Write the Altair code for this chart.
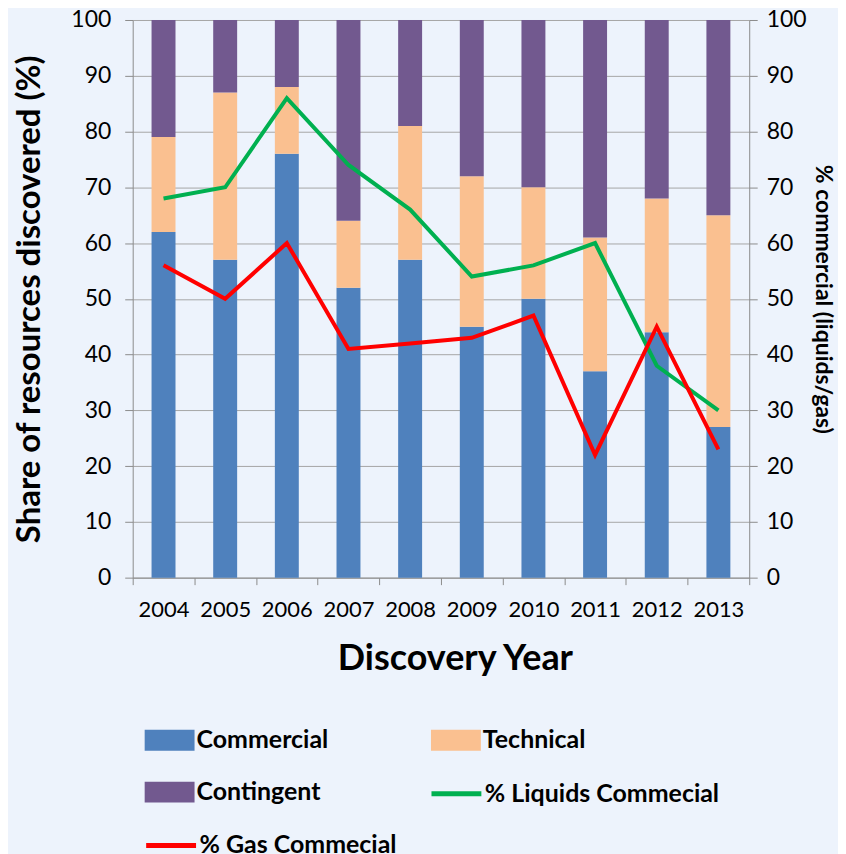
import altair as alt
import pandas as pd

years = ["2004", "2005", "2006", "2007", "2008", "2009", "2010", "2011", "2012", "2013"]
commercial = [62, 57, 76, 52, 57, 45, 50, 37, 44, 27]
technical = [17, 30, 12, 12, 24, 27, 20, 24, 24, 38]
contingent = [21, 13, 12, 36, 19, 28, 30, 39, 32, 35]
liquids_commercial = [68, 70, 86, 74, 66, 54, 56, 60, 38, 30]
gas_commercial = [56, 50, 60, 41, 42, 43, 47, 22, 45, 23]

bar_series = ["Commercial", "Technical", "Contingent"]
bar_colors = ["#4F81BD", "#FAC090", "#72598F"]
# legend fills column-major: list in the order that reads row by row in two columns
legend_order = ["Commercial", "Contingent", "Technical"]
liquids_name = "% Liquids Commecial"
gas_name = "% Gas Commecial"
liquids_color = "#00B050"
gas_color = "#FF0000"

bar_rows = []
for k, (name, vals) in enumerate(zip(bar_series, [commercial, technical, contingent])):
    for y, v in zip(years, vals):
        bar_rows.append({"year": y, "series": name, "value": v, "order": k})
bars_df = pd.DataFrame(bar_rows)

liquids_df = pd.DataFrame({"year": years, "series": liquids_name, "value": liquids_commercial})
gas_df = pd.DataFrame({"year": years, "series": gas_name, "value": gas_commercial})

FONT = "Lato"
RECT = "M-1,-0.42H1V0.42H-1Z"


def legend(x, y, columns=1, symbol=RECT, **kw):
    return alt.Legend(
        title=None,
        orient="none",
        legendX=x,
        legendY=y,
        columns=columns,
        symbolType=symbol,
        symbolSize=2500,
        symbolOffset=0,
        labelOffset=1,
        labelFont=FONT,
        labelFontSize=25,
        labelFontWeight="bold",
        labelColor="#000000",
        labelLimit=400,
        rowPadding=13,
        **kw,
    )


x = alt.X(
    "year:N",
    sort=years,
    scale=alt.Scale(paddingInner=0, paddingOuter=0),
    axis=alt.Axis(
        title="Discovery Year",
        labelAngle=0,
        tickBand="extent",
        tickSize=7,
        labelPadding=15,
        labelFontSize=22,
        labelFont=FONT,
        titleFont=FONT,
        titleFontSize=36,
        titleFontWeight="bold",
        titlePadding=21,
        titleX=323,
        grid=False,
    ),
)

ticks = list(range(0, 101, 10))
line_scale = alt.Scale(domain=[0, 100], nice=False)
right_axis = alt.Axis(
    title="% commercial (liquids/gas)",
    orient="right",
    values=ticks,
    tickSize=8,
    labelPadding=9,
    labelFontSize=23,
    labelFont=FONT,
    titleFont=FONT,
    titleFontSize=23,
    titleFontWeight="bold",
    titlePadding=4,
    grid=False,
)

bars = alt.Chart(bars_df).mark_bar(size=24).encode(
    x=x,
    y=alt.Y(
        "value:Q",
        stack="zero",
        scale=alt.Scale(domain=[0, 100], nice=False),
        axis=alt.Axis(
            title="Share of resources discovered (%)",
            values=ticks,
            tickSize=8,
            labelPadding=14,
            labelFontSize=23,
            labelFont=FONT,
            titleFont=FONT,
            titleFontSize=33,
            titleFontWeight="bold",
            titlePadding=24,
            grid=True,
        ),
    ),
    color=alt.Color(
        "series:N",
        scale=alt.Scale(domain=legend_order, range=[bar_colors[bar_series.index(s)] for s in legend_order]),
        legend=legend(11, 696, columns=2, columnPadding=101),
    ),
    order=alt.Order("order:Q"),
)

liquids = alt.Chart(liquids_df).mark_line(strokeWidth=4).encode(
    x=x,
    y=alt.Y("value:Q", scale=line_scale, axis=right_axis),
    color=alt.Color(
        "series:N",
        scale=alt.Scale(domain=[liquids_name], range=[liquids_color]),
        legend=legend(297, 748, symbol="stroke", symbolStrokeWidth=5),
    ),
)

gas = alt.Chart(gas_df).mark_line(strokeWidth=4).encode(
    x=x,
    y=alt.Y("value:Q", scale=line_scale, axis=right_axis),
    color=alt.Color(
        "series:N",
        scale=alt.Scale(domain=[gas_name], range=[gas_color]),
        legend=legend(11, 800, symbol="stroke", symbolStrokeWidth=5),
    ),
)

lines = alt.layer(liquids, gas).resolve_scale(color="independent")

chart = (
    alt.layer(bars, lines)
    .resolve_scale(y="independent", color="independent")
    .properties(
        width=618,
        height=559,
        background="#EDF3FC",
        padding={"left": 5, "top": 0, "right": 4, "bottom": 0},
    )
    .configure_view(stroke=None)
    .configure_axis(
        domainColor="#8C8C8C",
        tickColor="#8C8C8C",
        gridColor="#A6A6A6",
        gridWidth=1,
        labelColor="#000000",
        titleColor="#000000",
    )
)

chart.save("out.html", embed_options={"renderer": "svg", "actions": False})
